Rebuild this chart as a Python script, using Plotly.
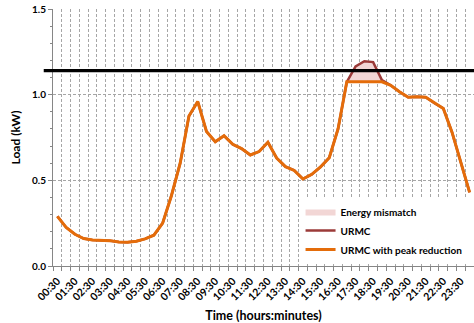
import plotly.graph_objects as go

# Half-hourly time slots (00:30 ... 24:00)
times = [f"{(m // 60):02d}:{(m % 60):02d}" for m in range(30, 24 * 60 + 1, 30)]

# Household load with peak reduction applied (kW)
load_reduced = [
    0.29, 0.225, 0.185, 0.16, 0.152, 0.15, 0.148, 0.14, 0.138, 0.145,
    0.158, 0.18, 0.25, 0.41, 0.60, 0.875, 0.96, 0.785, 0.725, 0.76,
    0.71, 0.685, 0.648, 0.668, 0.722, 0.63, 0.58, 0.558, 0.508, 0.535,
    0.578, 0.632, 0.80, 1.075, 1.075, 1.075, 1.075, 1.075, 1.055, 1.017,
    0.985, 0.988, 0.985, 0.95, 0.92, 0.78, 0.605, 0.43,
]

# Original URMC load (kW): identical except around the evening peak
load_urmc = list(load_reduced)
load_urmc[34:38] = [1.165, 1.195, 1.19, 1.085]

# Peak limit (kW)
PEAK_LIMIT = 1.14

# Axis ticks
y_ticks = [0.0, 0.5, 1.0, 1.5]
y_grid = [0.5, 1.0]
x_label_idx = list(range(0, len(times), 2))
x_labels = [times[i] for i in x_label_idx]

ORANGE = "#E46C0A"
DARK_RED = "#9B3A38"
PINK = "#F2D6D5"
GRID = "#A6A6A6"
AXIS = "#868686"
FONT = dict(family="Lato", size=10, color="#000000", weight="bold")

idx = list(range(len(times)))

fig = go.Figure()

# Mismatch area between the original and the reduced profile
fig.add_trace(go.Scatter(
    x=idx, y=load_reduced, mode="lines", line=dict(width=0, color=PINK),
    showlegend=False, hoverinfo="skip",
))
fig.add_trace(go.Scatter(
    x=idx, y=load_urmc, mode="lines", line=dict(width=0, color=PINK),
    fill="tonexty", fillcolor=PINK, name="Energy mismatch",
))
fig.add_trace(go.Scatter(
    x=idx, y=load_urmc, mode="lines", name="URMC",
    line=dict(color=DARK_RED, width=2.5),
))
# Reduced profile on an overlay axis that also carries the dashed y grid
fig.add_trace(go.Scatter(
    x=idx, y=load_reduced, mode="lines", name="URMC with peak reduction",
    line=dict(color=ORANGE, width=3), yaxis="y2",
))

# Peak limit line, extending slightly past the y axis
fig.add_shape(
    type="line", xref="paper", yref="y", x0=-0.022, x1=1.0,
    y0=PEAK_LIMIT, y1=PEAK_LIMIT, line=dict(color="#000000", width=3.2),
    layer="above",
)

fig.update_layout(
    width=474, height=323,
    margin=dict(l=53, r=0, t=9, b=57),
    paper_bgcolor="white", plot_bgcolor="white",
    font=FONT,
    showlegend=True,
    legend=dict(
        x=0.588, y=0.268, xanchor="left", yanchor="top",
        bgcolor="white", font=dict(family="Lato", size=10, weight="bold"),
        traceorder="normal", tracegroupgap=0, itemwidth=30,
    ),
    xaxis=dict(
        range=[-0.5, len(times) - 0.5],
        tickmode="array", tickvals=x_label_idx, ticktext=x_labels,
        tickangle=-45, ticks="", showgrid=False, zeroline=False,
        showline=True, linecolor=AXIS, linewidth=1, ticklabelstandoff=4,
        tickfont=dict(family="Lato", size=10.5, weight="bold"),
        minor=dict(
            tickmode="linear", tick0=0.5, dtick=1, ticks="outside",
            ticklen=4, tickcolor=AXIS, showgrid=True, gridcolor=GRID,
            griddash="3px,2px", gridwidth=1,
        ),
        title=dict(text="Time (hours:minutes)", standoff=10,
                   font=dict(family="Lato", size=12.5, weight="bold")),
    ),
    yaxis=dict(
        range=[0, 1.5], tickmode="array", tickvals=y_ticks,
        tickformat=".1f", ticks="outside", ticklen=4, tickcolor=AXIS,
        showgrid=False, zeroline=False,
        showline=True, linecolor=AXIS, linewidth=1,
        tickfont=dict(family="Lato", size=10, weight="bold"),
        minor=dict(tickmode="linear", tick0=0, dtick=0.1, ticks="outside",
                   ticklen=2, tickcolor=AXIS, showgrid=False),
        title=dict(text="Load (kW)", standoff=8,
                   font=dict(family="Lato", size=12, weight="bold")),
    ),
    yaxis2=dict(
        overlaying="y", range=[0, 1.5], tickmode="array", tickvals=y_grid,
        showticklabels=False, ticks="", showgrid=True, gridcolor=GRID,
        griddash="3px,2px", gridwidth=1, zeroline=False, showline=False,
    ),
)

fig.write_html("out.html")
